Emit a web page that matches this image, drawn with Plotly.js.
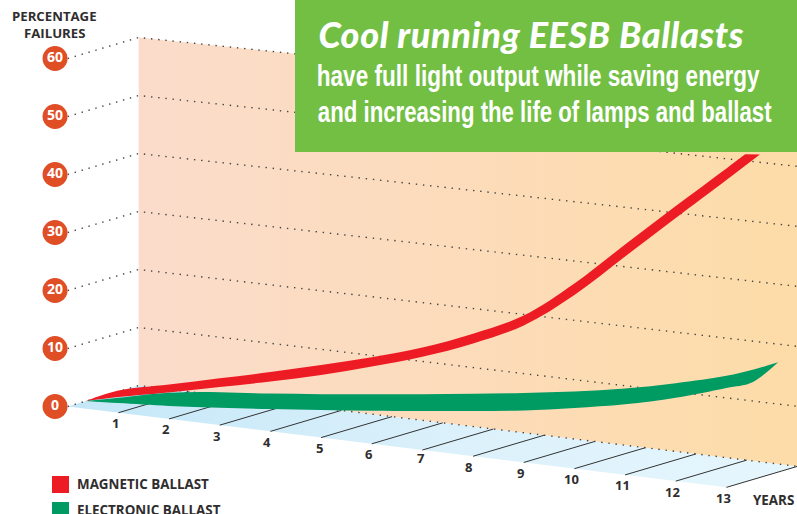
<!DOCTYPE html>
<html>
<head>
<meta charset="utf-8">
<script src="https://cdn.plot.ly/plotly-3.0.1.min.js"></script>
<style>html,body{margin:0;padding:0;background:#fff;overflow:hidden}</style>
</head>
<body>
<div id="chart" style="width:797px;height:514px"></div>
<script>
// ---- data ----
const yearTicks = [1,2,3,4,5,6,7,8,9,10,11,12,13];
const percentTicks = [0,10,20,30,40,50,60];
const magneticUpperYears = [0.36,1,2,3,4,5,6,7,8,9,10,11,12,13,13.37];
const magneticUpper = [1.31,3.75,5.82,7.93,10.06,12.31,14.68,17.38,20.77,24.91,31.39,39.05,46.63,54.06,56.84];
const magneticLowerYears = [0.36,1,2,3,4,5,6,7,8,9,10,11,12,13,13.66];
const magneticLower = [1.31,2.66,4.48,6.47,8.45,10.61,13.1,15.8,19.1,23.22,29.44,37.02,44.6,52.1,57.12];
const electronicYears = [0.36,1,2,3,4,5,6,7,8,9,10,11,12,13,13.5,14.02];
const electronicUpper = [1.31,2.53,4.43,5.59,6.40,7.36,8.39,9.45,10.59,11.78,13.07,14.63,16.6,18.91,20.42,22.27];
const electronicLower = [1.31,1.63,2.21,2.96,3.79,4.68,5.59,6.63,7.67,8.81,10.29,11.97,14.13,16.84,18.3,22.27];

// ---- oblique 3D view expressed in the axes' units ----
const PX_YEAR = 50.67, PX_PCT = 5.9, X0 = 67.7, Y0 = 406.5, W = 797, H = 514;
const DEPTH_X = 71 / PX_YEAR, DEPTH_Y = 21 / PX_PCT, DROP = 6.22 / PX_PCT;
const px = (t, d) => t + DEPTH_X * d;
const py = (t, d, h) => h - DROP * t + DEPTH_Y * d;
const wall = (t, h) => h * (5.8 + 0.2 * t / 13) / PX_PCT;

const INK = '#2f2d2e', FONT = '"Open Sans", sans-serif';
const traces = [];

// floor and wall
traces.push({x:[px(0,0),px(0,1),px(13,1),px(13,0),px(0,0)], y:[py(0,0,0),py(0,1,0),py(13,1,0),py(13,0,0),py(0,0,0)],
  mode:'lines', fill:'toself', line:{width:0}, fillcolor:'#d4eefa',
  fillgradient:{type:'horizontal', colorscale:[[0,'#c4e7f8'],[0.55,'#dcf1fb'],[1,'#e6f6fd']]}});
traces.push({x:[px(0,1),px(0,1),px(13,1),px(13,1),px(0,1)], y:[py(0,1,0),py(0,1,wall(0,60)),py(13,1,wall(13,60)),py(13,1,0),py(0,1,0)],
  mode:'lines', fill:'toself', line:{width:0}, fillcolor:'#fddcb8',
  fillgradient:{type:'horizontal', colorscale:[[0,'#fbdccb'],[1,'#fddca8']]}});

// year ticks on the floor
const tx = [], ty = [];
yearTicks.forEach(t => { tx.push(px(t,0),px(t,1),null); ty.push(py(t,0,0),py(t,1,0),null); });
traces.push({x:tx, y:ty, mode:'lines', line:{color:'#333',width:1}});

// dotted percent lines
const gx = [], gy = [];
percentTicks.forEach(h => {
  gx.push(px(0,0),px(0,1),px(13,1),null);
  gy.push(py(0,0,wall(0,h)),py(0,1,wall(0,h)),py(13,1,wall(13,h)),null);
});
traces.push({x:gx, y:gy, mode:'lines', line:{color:'#444',width:1.4,dash:'1.4px,5.8px'}});

// ribbons
function ribbon(xu, yu, xl, yl, color) {
  const sh = (a, b) => a.map((t,i) => py(t,0,b[i]));
  traces.push({x:xu, y:sh(xu,yu), mode:'lines', line:{color:color,width:0,shape:'spline',smoothing:1}});
  traces.push({x:xl, y:sh(xl,yl), mode:'lines', fill:'tonexty', fillcolor:color, line:{color:color,width:0,shape:'spline',smoothing:1}});
}
ribbon(magneticUpperYears, magneticUpper, magneticLowerYears, magneticLower, '#ed1c24');
ribbon(electronicYears, electronicUpper, electronicYears, electronicLower, '#009a63');

// percent badges
traces.push({x:percentTicks.map(() => -0.25), y:percentTicks.map(h => wall(0,h)), mode:'markers+text',
  marker:{size:25,color:'#e04e26'}, text:percentTicks.map(String), textposition:'middle center',
  textfont:{family:FONT,size:14,color:'#fff',weight:700}});

const annotations = yearTicks.map(t => ({x:px(t,0), y:py(t,0,0), text:String(t),
  xshift:t === 5 ? -1.5 : t === 7 ? -1 : t === 8 ? -5 : -3, yshift:t === 7 ? -7.5 : -10.5, showarrow:false,
  font:{family:FONT,size:13,color:INK,weight:700}}));

function label(text, x, y, size, anchor, opts) {
  return {xref:'paper', yref:'paper', x:x/W, y:1-y/H, text:text, showarrow:false, xanchor:anchor, yanchor:'middle',
    font:Object.assign({family:FONT,size:size,color:INK,weight:700}, opts||{})};
}
const WHITE_HEAD = {color:'#fff', family:'Lato, sans-serif', weight:900, style:'italic'};
const WHITE_SUB = {color:'#fff', family:'"Liberation Sans", sans-serif', weight:700};
const HEAD = 'Cool running EESB Ballasts';
const condensed = {
  'have full light output while saving energy': 443,
  'and increasing the life of lamps and ballast': 454
};
annotations.push(
  label('PERCENTAGE', 54, 16, 13.2, 'center'), label('FAILURES', 54, 33, 13.2, 'center'), label('YEARS', 773, 500, 13.4, 'center'),
  label('MAGNETIC BALLAST', 75, 484, 13.4, 'left'), label('ELECTRONIC BALLAST', 75, 509.5, 13.4, 'left'),
  label(HEAD, 530.5, 34, 36, 'center', WHITE_HEAD),
  label('have full light output while saving energy', 538.5, 75, 30, 'center', WHITE_SUB),
  label('and increasing the life of lamps and ballast', 544, 111, 30, 'center', WHITE_SUB));

const box = (x0,y0,x1,y1,c) => ({type:'rect', xref:'paper', yref:'paper', x0:x0/W, x1:x1/W, y0:1-y0/H, y1:1-y1/H, fillcolor:c, line:{width:0}, layer:'above'});
const shapes = [box(295,0,797,152,'#72bf44'), box(52,476,69,493,'#ed1c24'), box(52,502,69,514,'#009a63')];

Plotly.newPlot('chart', traces.map(t => Object.assign(t,{hoverinfo:'skip',showlegend:false})), {
  width:W, height:H, margin:{l:0,r:0,t:0,b:0}, paper_bgcolor:'#fff', plot_bgcolor:'#fff', showlegend:false,
  xaxis:{visible:false, fixedrange:true, range:[-X0/PX_YEAR,(W-X0)/PX_YEAR]},
  yaxis:{visible:false, fixedrange:true, range:[(Y0-H)/PX_PCT, Y0/PX_PCT]},
  shapes:shapes, annotations:annotations
}, {displayModeBar:false}).then(() => {
  // no condensed display face is installed: squeeze the real text to its measured width
  document.querySelectorAll('.annotation-text').forEach(el => {
    const t = el.textContent;
    if (t === HEAD) { el.setAttribute('textLength', 425); el.setAttribute('lengthAdjust', 'spacing'); }
    if (condensed[t]) {
      const cx = +el.getAttribute('x') || 0, s = condensed[t] / el.getComputedTextLength();
      el.setAttribute('transform', `translate(${cx} 0) scale(${s} 1) translate(${-cx} 0)`);
    }
  });
});
</script>
</body>
</html>
